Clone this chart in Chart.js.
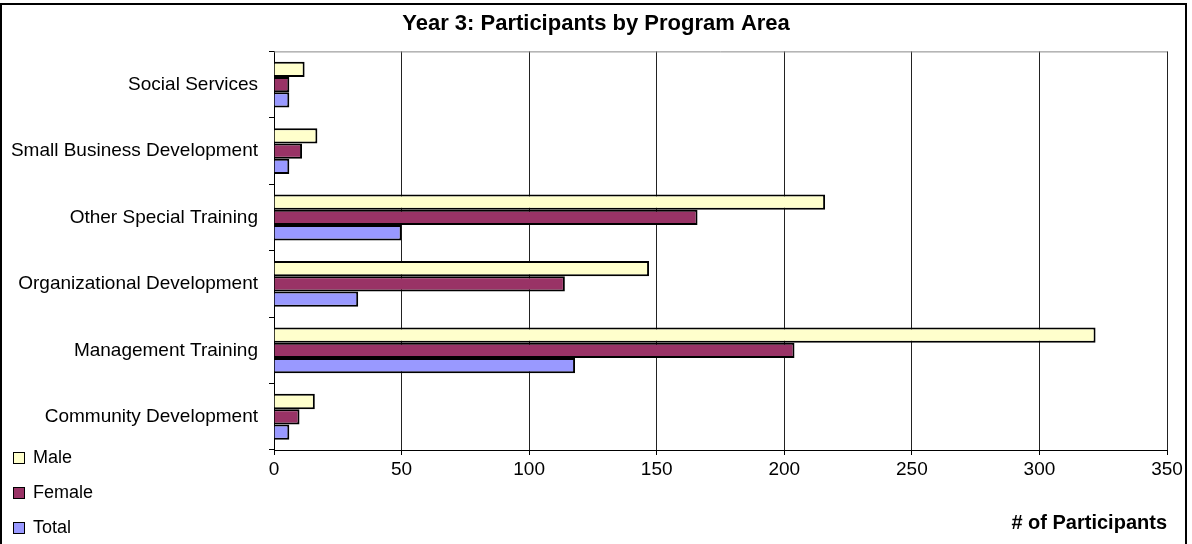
<!DOCTYPE html>
<html>
<head>
<meta charset="utf-8">
<script src="https://cdn.jsdelivr.net/npm/chart.js@4.4.1/dist/chart.umd.min.js"></script>
<style>
  html, body { margin: 0; padding: 0; background: #fff; overflow: hidden; }
  #frame { position: absolute; left: 0; top: 3px; width: 1183px; height: 600px; border: 2px solid #000; }
  #wrap { position: absolute; left: 0; top: 0; width: 1192px; height: 544px; }
  #legend { position: absolute; left: 13px; top: 440px; font: 18px "Liberation Sans", Arial, sans-serif; color: #000; }
  #legend .item { height: 35px; display: flex; align-items: center; }
  #legend .box { width: 10px; height: 10px; border: 1px solid #000; margin-right: 8px; }
</style>
</head>
<body>
<div id="frame"></div>
<div id="wrap"><canvas id="chart" width="1192" height="544"></canvas></div>
<div id="legend"></div>
<script>
// data
const categories = ["Social Services", "Small Business Development", "Other Special Training",
                    "Organizational Development", "Management Training", "Community Development"];
const maleValues = [12, 17, 216, 147, 322, 16];
const femaleValues = [6, 11, 166, 114, 204, 10];
const totalValues = [6, 6, 50, 33, 118, 6];
const seriesNames = ["Male", "Female", "Total"];
const seriesColors = ["#FFFFCC", "#993366", "#9999FF"];

const fontFamily = '"Liberation Sans", Arial, sans-serif';

// legend (html, bottom left)
const legend = document.getElementById("legend");
seriesNames.forEach((name, i) => {
    const item = document.createElement("div");
    item.className = "item";
    const box = document.createElement("div");
    box.className = "box";
    box.style.background = seriesColors[i];
    item.appendChild(box);
    item.appendChild(document.createTextNode(name));
    legend.appendChild(item);
});

// thin gray line along the top of the plot area
const plotTop = {
    id: "plotTop",
    afterDraw(chart) {
        const { ctx, chartArea } = chart;
        ctx.save();
        ctx.strokeStyle = "#888";
        ctx.lineWidth = 1;
        ctx.beginPath();
        ctx.moveTo(chartArea.left, chartArea.top + 0.5);
        ctx.lineTo(chartArea.right, chartArea.top + 0.5);
        ctx.stroke();
        ctx.restore();
    }
};

const values = [maleValues, femaleValues, totalValues];

new Chart(document.getElementById("chart"), {
    type: "bar",
    data: {
        labels: categories,
        datasets: seriesNames.map((name, i) => ({
            label: name,
            data: values[i],
            backgroundColor: seriesColors[i],
            borderColor: "#000",
            borderWidth: 2,
            categoryPercentage: 0.69,
            barPercentage: 1
        }))
    },
    options: {
        indexAxis: "y",
        responsive: false,
        animation: false,
        layout: { padding: 0 },
        plugins: {
            legend: { display: false },
            tooltip: { enabled: false },
            title: {
                display: true,
                text: "Year 3: Participants by Program Area",
                color: "#000",
                font: { family: fontFamily, size: 22, weight: "bold" },
                padding: { top: 11, bottom: 14 }
            }
        },
        scales: {
            x: {
                min: 0,
                max: 350,
                ticks: { stepSize: 50, color: "#000", padding: 3, font: { family: fontFamily, size: 19 } },
                grid: { color: "#222", tickLength: 5, tickColor: "#000" },
                border: { color: "#000", width: 1 },
                title: {
                    display: true,
                    text: "# of Participants",
                    align: "end",
                    color: "#000",
                    font: { family: fontFamily, size: 20, weight: "bold" },
                    padding: { top: 4, bottom: 9 }
                },
                afterFit: s => { s.height = 94; }
            },
            y: {
                ticks: { color: "#000", padding: 11, font: { family: fontFamily, size: 19 } },
                grid: { drawOnChartArea: false, tickLength: 5, color: "#000" },
                border: { color: "#000", width: 1 },
                afterFit: s => { s.width = 274; }
            },
            // empty strip on the right so the plot ends where the reference does
            yRight: {
                axis: "y",
                position: "right",
                ticks: { display: false },
                grid: { display: false },
                border: { display: false },
                afterFit: s => { s.width = 25; }
            }
        }
    },
    plugins: [plotTop]
});
</script>
</body>
</html>
